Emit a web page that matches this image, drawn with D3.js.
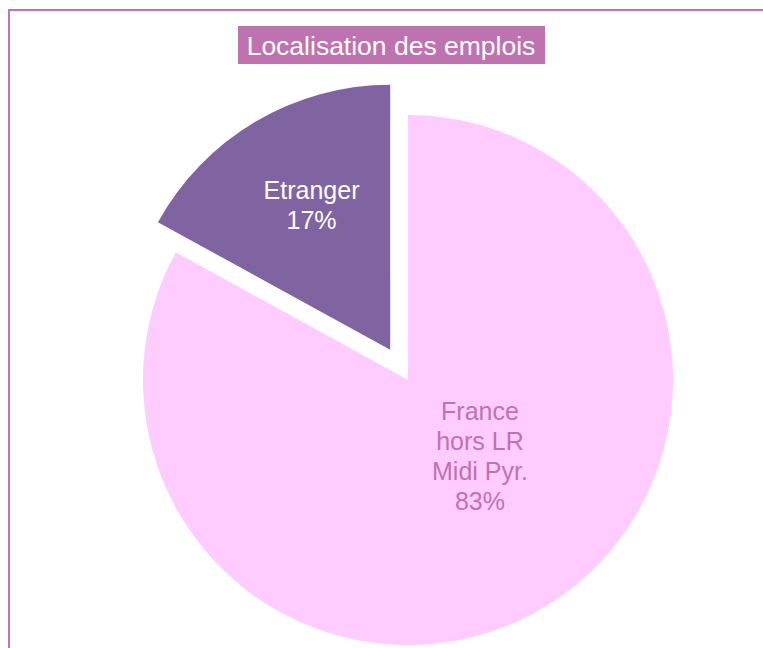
<!DOCTYPE html>
<html>
 <head>
  <meta charset="utf-8" />
  <title>Localisation des emplois</title>
  <style>
   body, html {
    margin: 0;
    padding: 0;
    overflow: hidden;
    background-color: white;
   }
   svg text {
    font-family: "Liberation Sans", Arial, sans-serif;
   }
  </style>
  <script src="https://cdnjs.cloudflare.com/ajax/libs/d3/7.9.0/d3.min.js"></script>
 </head>
 <body>
  <svg width="763" height="648"></svg>
  <script>
   // chart data
   const title = "Localisation des emplois";
   const categories = ["Etranger", "France\nhors LR\nMidi Pyr."];
   const values = [17, 83];
   const colors = ["#8064a2", "#ffccff"];
   const labelColors = ["#ffffff", "#bf72b0"];

   const width = 763;
   const height = 648;
   const cx = 408;
   const cy = 380;
   const radius = 265;
   const explode = 35;
   const fontSize = 25;
   const lineHeight = 30;

   const svg = d3.select("svg");

   // frame (only top and left edges are visible)
   svg.append("rect")
    .attr("x", 9)
    .attr("y", 10)
    .attr("width", width + 20)
    .attr("height", height + 20)
    .attr("fill", "none")
    .attr("stroke", "#c074b6")
    .attr("stroke-width", 2);

   // first slice ends at 12 o'clock
   const start = -2 * Math.PI * values[0] / d3.sum(values);
   const pie = d3.pie().sort(null).value(d => d)
    .startAngle(start)
    .endAngle(start + 2 * Math.PI);
   const arcs = pie(values);

   const arc = d3.arc().innerRadius(0).outerRadius(radius);

   const g = svg.append("g").attr("transform", `translate(${cx},${cy})`);

   const slice = g.selectAll("g.slice")
    .data(arcs)
    .enter().append("g")
    .attr("class", "slice")
    .attr("transform", (d, i) => {
     if(i !== 0)
      return null;
     const mid = (d.startAngle + d.endAngle) / 2;
     return `translate(${Math.sin(mid) * explode},${-Math.cos(mid) * explode})`;
    });

   slice.append("path")
    .attr("d", arc)
    .attr("fill", (d, i) => colors[i]);

   // label placement (distance from centre as fraction of radius, small nudges)
   const labelR = [0.62, 0.4];
   const nudge = [[5, -3], [18, -15]];

   slice.each(function(d, i) {
    const mid = (d.startAngle + d.endAngle) / 2;
    const r = radius * labelR[i];
    const x = Math.sin(mid) * r + nudge[i][0];
    const y = -Math.cos(mid) * r + nudge[i][1];
    const lines = categories[i].split("\n").concat([values[i] + "%"]);
    const text = d3.select(this).append("text")
     .attr("text-anchor", "middle")
     .attr("fill", labelColors[i])
     .style("font-size", fontSize + "px");
    const top = y - (lines.length - 1) * lineHeight / 2 + fontSize * 0.35;
    lines.forEach((line, k) => {
     text.append("tspan")
      .attr("x", x)
      .attr("y", top + k * lineHeight)
      .text(line);
    });
   });

   // title
   svg.append("rect")
    .attr("x", 238)
    .attr("y", 26)
    .attr("width", 307)
    .attr("height", 38)
    .attr("fill", "#bf72b0");

   svg.append("text")
    .attr("x", 391)
    .attr("y", 55)
    .attr("text-anchor", "middle")
    .attr("fill", "white")
    .style("font-size", "26.5px")
    .text(title);
  </script>
 </body>
</html>
